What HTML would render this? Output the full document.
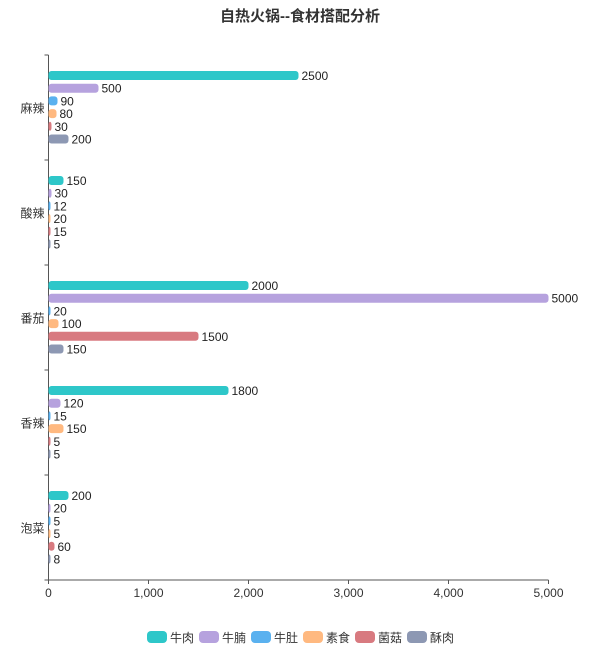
<!DOCTYPE html>
<html><head><meta charset="utf-8"><style>
body{margin:0;background:#fff;font-family:"Liberation Sans","Noto Sans CJK SC",sans-serif;}
</style></head><body>
<svg id="c" width="600" height="652" xmlns="http://www.w3.org/2000/svg" style="font-family:'Liberation Sans','Noto Sans CJK SC',sans-serif">
<text x="300" y="21" text-anchor="middle" font-size="15" font-weight="bold" fill="#333">自热火锅--食材搭配分析</text>
<g id="plot"></g>
</svg>
<script>
const categories = ['麻辣','酸辣','番茄','香辣','泡菜'];
const seriesNames = ['牛肉','牛腩','牛肚','素食','菌菇','酥肉'];
const beef = [2500,150,2000,1800,200];
const brisket = [500,30,5000,120,20];
const tripe = [90,12,20,15,5];
const veg = [80,20,100,150,5];
const mushroom = [30,15,1500,5,60];
const crispy = [200,5,150,5,8];
const xTicks = [0,1000,2000,3000,4000,5000];
const colors = ['#2ec7c9','#b6a2de','#5ab1ef','#ffb980','#d87a80','#8d98b3'];
const series = [beef,brisket,tripe,veg,mushroom,crispy];
const NS='http://www.w3.org/2000/svg';
const g=document.getElementById('plot');
const x0=48.5,x1=548.5,y0=55,y1=580,xMax=5000;
const xs=v=>x0+(v/xMax)*(x1-x0);
const band=(y1-y0)/categories.length;
const barY=(ci,si)=>y0+ci*band+16+si*12.7;
function el(t,a,txt){const e=document.createElementNS(NS,t);for(const k in a)e.setAttribute(k,a[k]);if(txt!==undefined)e.textContent=txt;g.appendChild(e);return e;}
// axes
let ax=el('line',{x1:x0,y1:y0,x2:x0,y2:y1,stroke:'#555','stroke-width':1});


let bx=el('line',{x1:x0,y1:y1,x2:x1,y2:y1,stroke:'#555','stroke-width':1});


categories.forEach((c,i)=>{
  const yb=y0+i*band;
  let tk=el('line',{x1:x0-4,y1:yb,x2:x0,y2:yb,stroke:'#555'});
  
  
  let t=el('text',{x:x0-4,y:yb+band/2+5,'text-anchor':'end','font-size':12,fill:'#333'},c);
  
  
});
let tk=el('line',{x1:x0-4,y1:y1,x2:x0,y2:y1,stroke:'#555'});


xTicks.forEach(v=>{
  const x=xs(v);
  let l=el('line',{x1:x,y1:y1,x2:x,y2:y1+4,stroke:'#555'});
  
  
  let t=el('text',{x:x,y:y1+17,'text-anchor':'middle','font-size':12,fill:'#333'},v.toLocaleString('en-US'));
  
  
});
series.forEach((s,si)=>{
  s.forEach((v,ci)=>{
    const y=barY(ci,si);
    const w=Math.max(xs(v)-x0,2);
    let r=el('rect',{x:x0,y:y,width:w,height:9,rx:3,fill:colors[si]});
    
    
    let t=el('text',{x:x0+w+3,y:y+9,'font-size':12,fill:'#222'},v);
    
    
  });
});
seriesNames.forEach((n,i)=>{
  const x=147+i*52;
  let r=el('rect',{x:x,y:631,width:20,height:12,rx:4,fill:colors[i]});
  
  
  let t=el('text',{x:x+23,y:642,'font-size':12,fill:'#333'},n);
  
  
});
</script>
</body></html>
